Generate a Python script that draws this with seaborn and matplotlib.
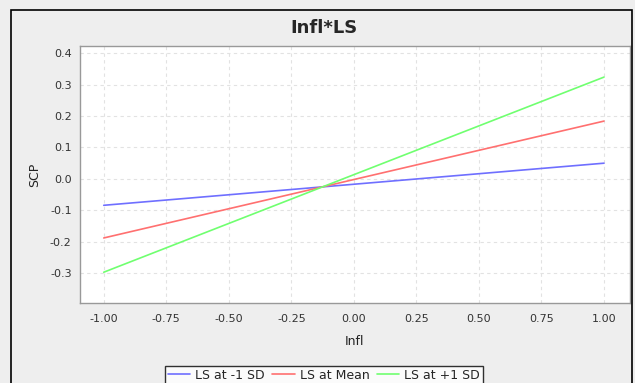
import pandas as pd
import numpy as np
import seaborn as sns
import matplotlib.pyplot as plt
from matplotlib.patches import Rectangle

# Simple slopes of SCP on Infl at three levels of LS
infl = [-1.0, 1.0]
ls_low = [-0.084, 0.050]
ls_mean = [-0.188, 0.184]
ls_high = [-0.297, 0.324]
series = ['LS at -1 SD', 'LS at Mean', 'LS at +1 SD']
colors = ['#6f6fff', '#ff7070', '#70ff70']

df = pd.DataFrame({
    'Infl': infl * 3,
    'SCP': ls_low + ls_mean + ls_high,
    'level': [s for s in series for _ in infl],
})

sns.set_style('whitegrid')
plt.rcParams['font.family'] = ['DejaVu Sans']

fig = plt.figure(figsize=(6.35, 3.83), dpi=100, facecolor='#eeeeee')
# outer frame of the chart panel
fig.patches.append(Rectangle((11 / 635, -0.1), 621 / 635, 1.1 - 10 / 383,
                             transform=fig.transFigure, fill=False,
                             edgecolor='black', linewidth=1.2))

ax = fig.add_axes([80 / 635, 80 / 383, 550 / 635, 257 / 383])
sns.lineplot(data=df, x='Infl', y='SCP', hue='level', palette=colors,
             linewidth=1.2, ax=ax, legend=False)

ax.set_xlim(-1.095, 1.104)
ax.set_ylim(-0.395, 0.423)
ax.set_xticks(np.arange(-1.0, 1.01, 0.25))
ax.set_xticklabels([f'{v:.2f}' for v in np.arange(-1.0, 1.01, 0.25)])
ax.set_yticks(np.arange(-0.3, 0.41, 0.1))
ax.set_yticklabels([f'{v:.1f}' for v in np.arange(-0.3, 0.41, 0.1)])
ax.grid(True, color='#e2e2e2', linestyle=(0, (3, 3)), linewidth=0.8)
for s in ax.spines.values():
    s.set_color('#999999')
    s.set_linewidth(1)
ax.tick_params(axis='both', length=3, width=0.8, color='#999999',
               labelsize=8, labelcolor='#333333', pad=3, direction='out')
ax.tick_params(axis='x', pad=5)
ax.set_xlabel('Infl', fontsize=9, color='#222222', labelpad=8)
ax.set_ylabel('SCP', fontsize=9, color='#222222', labelpad=6)

fig.text(0.51, 1 - 28 / 383, 'Infl*LS', ha='center', va='center',
         fontsize=13, fontweight='bold')

handles = [plt.Line2D([], [], color=c, linewidth=1.2) for c in colors]
leg = fig.legend(handles, series, loc='upper center',
                 bbox_to_anchor=(0.51, 1 - 360 / 383), ncol=3, frameon=True,
                 fancybox=False, edgecolor='black', fontsize=9,
                 handlelength=1.8, handletextpad=0.4, columnspacing=0.6,
                 borderpad=0.2)
leg.get_frame().set_linewidth(1.0)

fig.savefig('out.png', dpi=100, facecolor=fig.get_facecolor())
